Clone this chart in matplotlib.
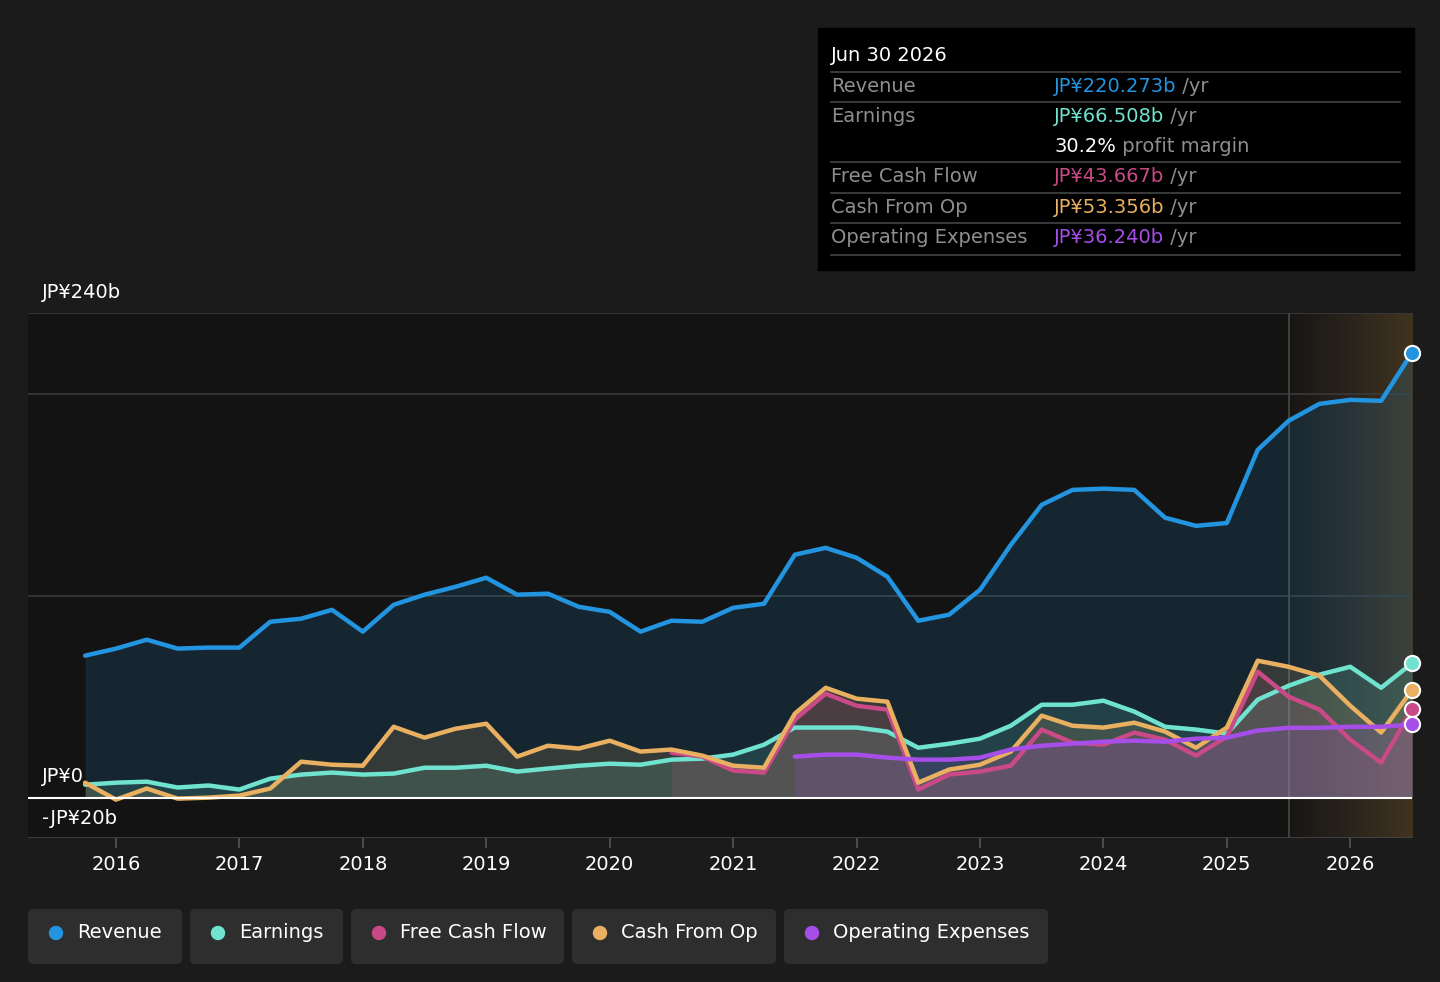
import numpy as np
import matplotlib
matplotlib.use("Agg")
import matplotlib.pyplot as plt
from matplotlib.patches import FancyBboxPatch, Rectangle, Circle
from matplotlib.colors import LinearSegmentedColormap

plt.rcParams['font.family'] = ['DejaVu Sans']

# quarterly dates, Sep 2015 .. Jun 2026
t = np.arange(2015.75, 2026.51, 0.25)

revenue = [70.3, 73.8, 78.2, 73.8, 74.3, 74.3, 87.1, 88.6, 93.0, 82.2, 95.5, 100.5,
           104.4, 108.9, 100.5, 101.0, 94.5, 92.0, 82.2, 87.6, 87.1, 94.0, 96.0, 120.3,
           123.7, 118.8, 109.4, 87.6, 90.6, 102.9, 125.2, 145.0, 152.4, 153.0, 152.4, 138.6,
           134.6, 136.0, 172.2, 186.6, 195.0, 197.0, 196.5, 220.273]
earnings = [6.4, 7.4, 7.9, 5.0, 6.0, 4.0, 9.4, 11.4, 12.4, 11.4, 11.9, 14.8,
            14.8, 15.8, 12.9, 14.4, 15.8, 16.8, 16.3, 18.8, 19.3, 21.3, 26.2, 34.7,
            34.7, 34.7, 32.7, 24.7, 26.7, 29.2, 35.6, 46.0, 46.0, 48.0, 42.6, 35.1,
            33.7, 31.7, 48.5, 55.4, 60.9, 64.8, 54.4, 66.508]
cash_from_op = [7.4, -1.0, 4.5, -0.5, 0.0, 1.0, 4.5, 17.8, 16.3, 15.8, 35.1, 29.7,
                34.1, 36.6, 20.3, 25.7, 24.3, 28.2, 22.8, 23.8, 20.8, 15.8, 14.8, 41.6,
                54.4, 49.0, 47.5, 7.4, 13.9, 16.3, 22.8, 40.6, 35.6, 34.7, 37.1, 32.7,
                24.7, 34.7, 67.8, 64.8, 60.4, 45.5, 32.2, 53.356]
# free cash flow from Jun 2020
fcf = [22.3, 20.3, 13.4, 12.4, 38.6, 51.5, 45.5, 43.6, 4.0, 11.4, 12.9, 15.8,
       33.7, 27.2, 26.2, 32.2, 28.7, 20.8, 30.2, 62.4, 50.0, 43.6, 28.7, 17.3, 43.667]
# operating expenses from Jun 2021
opex = [20.3, 21.3, 21.3, 19.8, 18.8, 18.8, 19.8, 23.8, 25.7, 26.7, 27.7, 28.2,
        27.7, 29.2, 29.7, 33.2, 34.6, 34.6, 35.1, 35.1, 36.24]

series = [
    ("Revenue", revenue, "#2394df"),
    ("Earnings", earnings, "#6fe3cf"),
    ("Free Cash Flow", fcf, "#c94a86"),
    ("Cash From Op", cash_from_op, "#e8b060"),
    ("Operating Expenses", opex, "#a64ee8"),
]

BG = "#1b1b1b"
FS = 14
fig = plt.figure(figsize=(14.4, 9.82), dpi=100, facecolor=BG)

W, H = 1440, 982
x0, x1 = 28, 1412
y_top, y_bot = 313, 838
ax = fig.add_axes([x0 / W, 1 - y_bot / H, (x1 - x0) / W, (y_bot - y_top) / H])
ax.set_facecolor("#131313")
xmin = 2016 + (x0 - 116) / 123.5
xmax = 2026.5
ax.set_xlim(xmin, xmax)
ax.set_ylim(-20, 240)
for s in ax.spines.values():
    s.set_visible(False)

# forecast area
fc_start = 2025.5
cmap = LinearSegmentedColormap.from_list("fc", ["#181614", "#2a241c", "#41341f"])
grad = np.linspace(0, 1, 256).reshape(1, -1)
ax.imshow(grad, extent=[fc_start, xmax, -20, 240], aspect="auto", cmap=cmap,
          zorder=0.5, interpolation="bicubic")
ax.axvline(fc_start, color="#4a4a44", lw=1.2, zorder=1)

for gy in [100, 200, 240]:
    ax.axhline(gy, color="#3a3a3a", lw=1.2, zorder=1)
ax.axhline(-20, color="#444444", lw=2, zorder=1)
ax.axhline(0, color="#ffffff", lw=1.5, zorder=6)

for name, vals, col in series:
    tt = t[len(t) - len(vals):]
    ax.fill_between(tt, vals, 0, color=col, alpha=0.15, lw=0, zorder=2)
    ax.plot(tt, vals, color=col, lw=3.2, solid_joinstyle="round",
            solid_capstyle="round", zorder=4)
    ax.scatter([tt[-1]], [vals[-1]], s=120, color=col, edgecolor="white",
               linewidth=1.5, zorder=7, clip_on=False)

years = list(range(2016, 2027))
ax.set_xticks(years)
ax.set_xticklabels([str(y) for y in years], color="white", fontsize=FS)
ax.tick_params(axis="x", colors="#555555", length=7, width=1.2, pad=5,
               labelcolor="white")
ax.set_yticks([])

# overlay in pixel coordinates
ov = fig.add_axes([0, 0, 1, 1], facecolor="none")
ov.set_xlim(0, W)
ov.set_ylim(H, 0)
ov.axis("off")

ov.text(42, 292, "JP¥240b", color="white", fontsize=FS, va="center")
ov.text(42, 777, "JP¥0", color="white", fontsize=FS, va="center")
ov.text(42, 818, "-JP¥20b", color="white", fontsize=FS, va="center")

# tooltip
ov.add_patch(Rectangle((818, 28), 596, 242, color="black", zorder=1))
ov.text(831, 55, "Jun 30 2026", color="white", fontsize=FS, va="center", zorder=2)
for ly in [72, 102, 162, 193, 223, 255]:
    ov.plot([831, 1400], [ly, ly], color="#444444", lw=1.2, zorder=2)
rows = [
    (86, "Revenue", "JP¥220.273b", "#2394df"),
    (116, "Earnings", "JP¥66.508b", "#6fe3cf"),
    (176, "Free Cash Flow", "JP¥43.667b", "#c94a86"),
    (207, "Cash From Op", "JP¥53.356b", "#e8b060"),
    (237, "Operating Expenses", "JP¥36.240b", "#a64ee8"),
]
for ry, lab, val, col in rows:
    ov.text(831, ry, lab, color="#8e8e8e", fontsize=FS, va="center", zorder=2)
    tx = ov.text(1054, ry, val, color=col, fontsize=FS, va="center", zorder=2)
    ov.annotate(" /yr", xycoords=tx, xy=(1, 0.5), va="center", color="#8e8e8e",
                fontsize=FS, zorder=2)
tx = ov.text(1054, 146, "30.2%", color="white", fontsize=FS, va="center", zorder=2)
ov.annotate(" profit margin", xycoords=tx, xy=(1, 0.5), va="center",
            color="#8e8e8e", fontsize=FS, zorder=2)

# legend pills
pills = [(28, 182), (190, 343), (351, 564), (572, 776), (784, 1048)]
for (px0, px1), (name, vals, col) in zip(pills, series):
    ov.add_patch(FancyBboxPatch((px0, 909), px1 - px0, 55,
                                boxstyle="round,pad=0,rounding_size=5",
                                facecolor="#2e2e2e", edgecolor="none"))
    ov.add_patch(Circle((px0 + 28, 933), 6.5, color=col))
    ov.text(px0 + 49, 933, name, color="white", fontsize=FS, va="center")

fig.savefig("out.png", dpi=100, facecolor=BG)
